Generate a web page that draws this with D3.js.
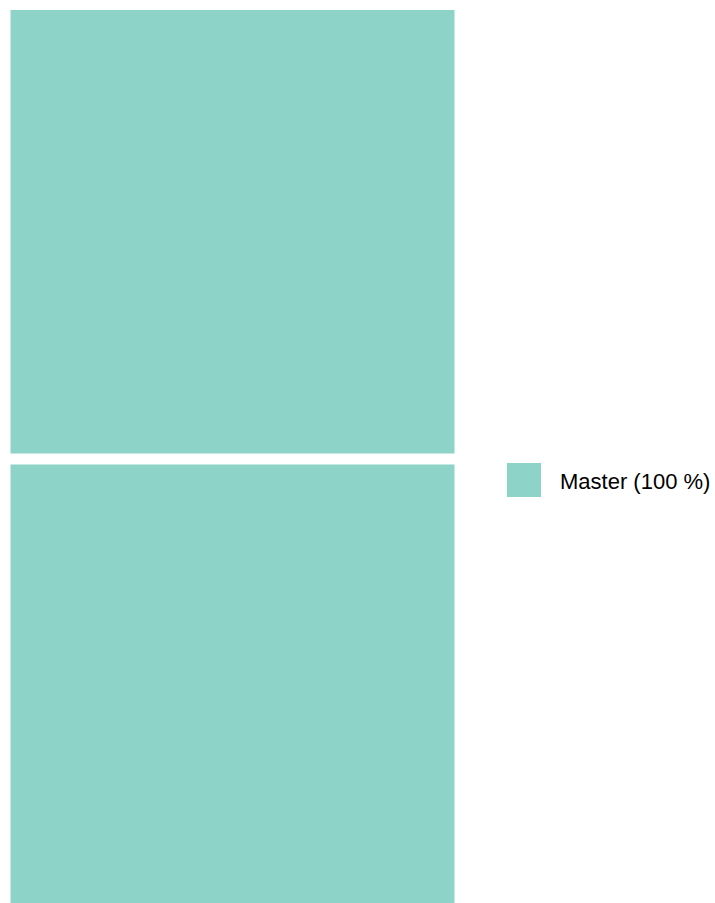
<!DOCTYPE html>
<html>
<head>
<meta charset="utf-8">
<script src="https://cdn.jsdelivr.net/npm/d3@7"></script>
<style>
  body { margin: 0; background: #fff; }
  svg { display: block; }
</style>
</head>
<body>
<div id="chart"></div>
<script>
// Cell data
const cells = ["A", "B"];
const cellGroups = ["Master", "Master"];
const cellValues = [1, 1];
const groups = ["Master"];

const width = 715;
const height = 903;

const color = d3.scaleOrdinal().domain(groups).range(["#8dd3c7"]);

const svg = d3.select("#chart").append("svg")
    .attr("width", width)
    .attr("height", height);

// Build hierarchy
const root = d3.hierarchy({
    children: cells.map((c, i) => ({ name: c, group: cellGroups[i], value: cellValues[i] }))
}).sum(d => d.value || 0);

d3.treemap()
    .tile(d3.treemapSlice)
    .size([444, 898])
    .paddingInner(11)(root);

const plot = svg.append("g").attr("transform", "translate(10.5,10)");

plot.selectAll("rect")
    .data(root.leaves())
    .join("rect")
    .attr("x", d => d.x0)
    .attr("y", d => d.y0)
    .attr("width", d => d.x1 - d.x0)
    .attr("height", d => d.y1 - d.y0)
    .attr("fill", d => color(d.data.group));

// Legend
const total = d3.sum(cellValues);
const share = groups.map(g => d3.sum(cellValues.filter((v, i) => cellGroups[i] === g)) / total);

const legend = svg.append("g").attr("transform", "translate(507,463)");

const item = legend.selectAll("g")
    .data(groups)
    .join("g")
    .attr("transform", (d, i) => `translate(0,${i * 40})`);

item.append("rect")
    .attr("width", 34)
    .attr("height", 34)
    .attr("fill", d => color(d));

item.append("text")
    .attr("x", 53)
    .attr("y", 18)
    .attr("dy", "0.35em")
    .attr("font-family", "Liberation Sans, Arial, sans-serif")
    .attr("font-size", 22)
    .attr("fill", "#000")
    .text((d, i) => `${d} (${Math.round(share[i] * 100)} %)`);
</script>
</body>
</html>
